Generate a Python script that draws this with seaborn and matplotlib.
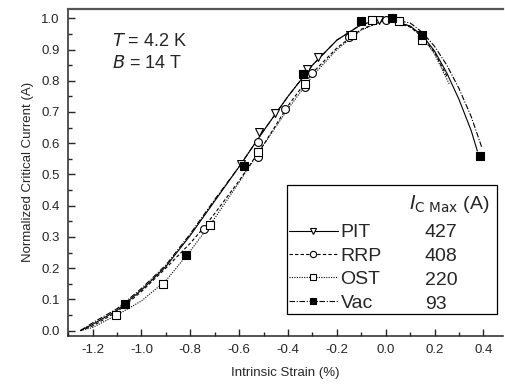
import numpy as np
import pandas as pd
import seaborn as sns
from matplotlib import pyplot as plt
from matplotlib.lines import Line2D
from matplotlib.patches import Rectangle
from matplotlib.ticker import MultipleLocator

sns.set_style('ticks')
plt.rcParams['font.family'] = ['Liberation Sans', 'DejaVu Sans']

# measured points (strain %, normalized Ic)
pit_x = [-0.592, -0.517, -0.452, -0.324, -0.276, -0.146, -0.027, 0.15]
pit_y = [0.534, 0.635, 0.697, 0.837, 0.876, 0.948, 0.996, 0.93]
rrp_x = [-0.746, -0.524, -0.524, -0.414, -0.331, -0.30, -0.15, 0.0, 0.15]
rrp_y = [0.324, 0.555, 0.603, 0.709, 0.780, 0.825, 0.94, 0.995, 0.935]
ost_x = [-1.105, -0.910, -0.718, -0.524, -0.331, -0.14, -0.055, 0.054, 0.149]
ost_y = [0.051, 0.150, 0.338, 0.571, 0.791, 0.945, 0.996, 0.990, 0.930]
vac_x = [-1.068, -0.819, -0.580, -0.340, -0.102, 0.027, 0.149, 0.387]
vac_y = [0.086, 0.242, 0.526, 0.823, 0.990, 1.0, 0.946, 0.558]

# fitted curves
pit_fx = [-1.25, -1.2, -1.1, -1.0, -0.9, -0.8, -0.7, -0.6, -0.5, -0.4, -0.3, -0.2, -0.1,
          0.0, 0.1, 0.15, 0.2, 0.25, 0.3, 0.35, 0.375]
pit_fy = [0.0, 0.02, 0.065, 0.13, 0.205, 0.305, 0.415, 0.525, 0.64, 0.75, 0.85, 0.93, 0.98,
          1.0, 0.975, 0.945, 0.895, 0.825, 0.74, 0.64, 0.575]
rrp_fx = [-1.25, -1.2, -1.1, -1.0, -0.9, -0.8, -0.75, -0.7, -0.6, -0.5, -0.4, -0.3, -0.2,
          -0.1, 0.0, 0.1, 0.15, 0.2, 0.25]
rrp_fy = [0.0, 0.015, 0.06, 0.125, 0.2, 0.28, 0.325, 0.375, 0.48, 0.595, 0.72, 0.825, 0.905,
          0.965, 0.995, 0.972, 0.94, 0.89, 0.815]
ost_fx = [-1.25, -1.2, -1.1, -1.0, -0.9, -0.8, -0.7, -0.6, -0.5, -0.4, -0.3, -0.2, -0.1,
          0.0, 0.1, 0.15, 0.2, 0.26]
ost_fy = [0.0, 0.01, 0.05, 0.095, 0.16, 0.255, 0.36, 0.475, 0.595, 0.71, 0.815, 0.9, 0.962,
          0.995, 0.975, 0.94, 0.885, 0.79]
vac_fx = [-1.25, -1.2, -1.1, -1.0, -0.9, -0.8, -0.7, -0.6, -0.5, -0.4, -0.3, -0.2, -0.1,
          0.0, 0.1, 0.15, 0.2, 0.25, 0.3, 0.35, 0.394]
vac_fy = [0.0, 0.025, 0.07, 0.135, 0.21, 0.31, 0.42, 0.525, 0.64, 0.75, 0.85, 0.93, 0.98,
          1.0, 0.985, 0.955, 0.91, 0.85, 0.775, 0.685, 0.585]

names = ['PIT', 'RRP', 'OST', 'Vac']
ic_max = ['427', '408', '220', '93']

series = {
    'PIT': (pit_x, pit_y, pit_fx, pit_fy, 'v', 'white', '-'),
    'RRP': (rrp_x, rrp_y, rrp_fx, rrp_fy, 'o', 'white', (0, (3, 2))),
    'OST': (ost_x, ost_y, ost_fx, ost_fy, 's', 'white', (0, (1, 1.2))),
    'Vac': (vac_x, vac_y, vac_fx, vac_fy, 's', 'black', (0, (5, 1.5, 1, 1.5))),
}

fig, ax = plt.subplots(figsize=(5.05, 3.87), dpi=100)
fig.subplots_adjust(left=0.135, right=0.996, bottom=0.132, top=0.977)

handles = []
for name in names:
    px, py, fx, fy, mk, fc, ls = series[name]
    fit = pd.DataFrame({'x': fx, 'y': fy})
    sns.lineplot(data=fit, x='x', y='y', ax=ax, color='black', lw=0.8,
                 linestyle=ls, sort=False, estimator=None)
    pts = pd.DataFrame({'x': px, 'y': py})
    sns.scatterplot(data=pts, x='x', y='y', ax=ax, marker=mk, s=32,
                    facecolor=fc, edgecolor='black', linewidth=0.8, zorder=5)
    handles.append(Line2D([], [], color='black', lw=0.8, linestyle=ls, marker=mk,
                          markersize=4.5, markerfacecolor=fc, markeredgecolor='black',
                          markeredgewidth=0.8))

ax.set_xlim(-1.3, 0.48)
ax.set_ylim(-0.017, 1.03)
ax.xaxis.set_minor_locator(MultipleLocator(0.1))
ax.yaxis.set_major_locator(MultipleLocator(0.1))
ax.yaxis.set_minor_locator(MultipleLocator(0.05))
ax.set_xticks(np.arange(-1.2, 0.41, 0.2))
ax.set_xticklabels(['-1.2', '-1.0', '-0.8', '-0.6', '-0.4', '-0.2', '0.0', '0.2', '0.4'])
ax.tick_params(axis='both', which='major', direction='in', length=5, width=1,
               labelsize=9.5, pad=6, top=False, right=False)
ax.tick_params(axis='both', which='minor', direction='in', length=3, width=1,
               top=False, right=False)
for sp in ax.spines.values():
    sp.set_linewidth(1.1)
ax.spines['top'].set_color('#555555')
ax.spines['top'].set_linewidth(1.6)
ax.spines['right'].set_visible(False)

ax.set_xlabel('Intrinsic Strain (%)', fontsize=9.5, labelpad=8)
ax.set_ylabel('Normalized Critical Current (A)', fontsize=9.5, labelpad=5)

ax.text(0.1, 0.899, r'$T$ = 4.2 K', transform=ax.transAxes, fontsize=13,
        va='center', ha='left')
ax.text(0.1, 0.833, r'$B$ = 14 T', transform=ax.transAxes, fontsize=13,
        va='center', ha='left')

# legend box with Ic max column
ax.add_patch(Rectangle((0.503, 0.067), 0.483, 0.395, transform=ax.transAxes,
                       fill=False, edgecolor='black', lw=0.9, zorder=6))
leg = ax.legend(handles, names, loc='upper left', bbox_to_anchor=(0.508, 0.343),
                frameon=False, fontsize=14, handlelength=2.5, handletextpad=0.15,
                labelspacing=0.3, borderpad=0.0, borderaxespad=0.0)
ax.text(0.785, 0.403, r'$I_{\mathrm{C\ Max}}$ (A)', transform=ax.transAxes,
        fontsize=14, va='center', ha='left')
row_y = [0.316, 0.242, 0.168, 0.095]
for yy, val in zip(row_y, ic_max):
    ax.text(0.82, yy, val, transform=ax.transAxes, fontsize=14, va='center', ha='left')

fig.savefig('out.png', dpi=100)
